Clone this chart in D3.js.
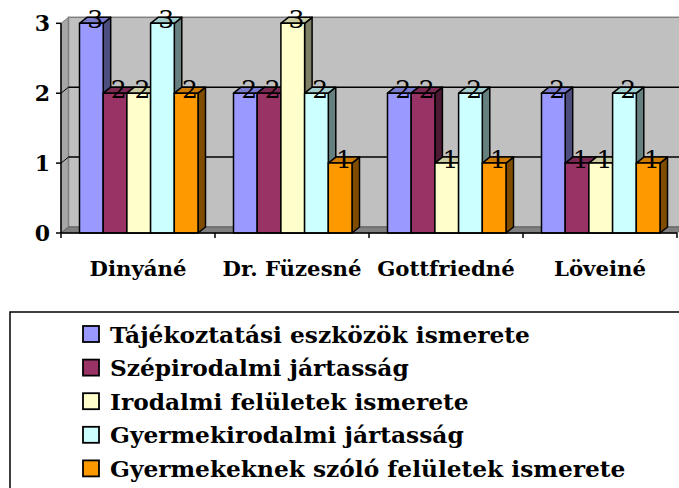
<!DOCTYPE html>
<html><head><meta charset="utf-8">
<script src="https://cdn.jsdelivr.net/npm/d3@7"></script>
<style>body{margin:0;background:#fff}svg{display:block}</style>
</head><body>
<svg id="c" width="679" height="488"></svg>
<script>
const categories = ["Dinyáné", "Dr. Füzesné", "Gottfriedné", "Löveiné"];
const seriesNames = [
  "Tájékoztatási eszközök ismerete",
  "Szépirodalmi jártasság",
  "Irodalmi felületek ismerete",
  "Gyermekirodalmi jártasság",
  "Gyermekeknek szóló felületek ismerete"
];
const tajekoztatasi = [3, 2, 2, 2];
const szepirodalmi = [2, 2, 2, 1];
const irodalmiFeluletek = [2, 3, 1, 1];
const gyermekirodalmi = [3, 2, 2, 2];
const gyermekeknekFeluletek = [2, 1, 1, 1];
const seriesValues = [tajekoztatasi, szepirodalmi, irodalmiFeluletek, gyermekirodalmi, gyermekeknekFeluletek];
const colors = ["#9999FF", "#993366", "#FFFFCC", "#CCFFFF", "#FF9900"];
const yTicks = [0, 1, 2, 3];

(function () {
const svg = d3.select("#c");
const pLeft = 61, pRight = 677, pBottom = 233, pTop = 23.3;
const dx = 7.5, dy = -6;
const serif = "'DejaVu Serif', serif";

const x = d3.scaleBand().domain(categories).range([pLeft, pRight]).padding(0);
const inner = d3.scaleBand().domain(d3.range(seriesNames.length)).range([18.5, 137]).padding(0);
const y = d3.scaleLinear().domain([0, 3]).range([pBottom, pTop]);

// walls
const wallTop = y(3) + dy, wallBottom = y(0) + dy;
svg.append("polygon")
  .attr("points", [[pLeft, y(3)], [pLeft + dx, wallTop], [pLeft + dx, wallBottom], [pLeft, y(0)]].join(" "))
  .attr("fill", "#A6A6A6").attr("stroke", "#808080").attr("stroke-width", 1);
svg.append("rect")
  .attr("x", pLeft + dx).attr("y", wallTop).attr("width", pRight - pLeft + 10).attr("height", wallBottom - wallTop)
  .attr("fill", "#C0C0C0").attr("stroke", "#808080").attr("stroke-width", 1.5);
svg.append("polygon")
  .attr("points", [[pLeft, y(0)], [pLeft + dx, wallBottom], [pRight + dx, wallBottom], [pRight, y(0)]].join(" "))
  .attr("fill", "#808080").attr("stroke", "#606060").attr("stroke-width", 1);

// gridlines
yTicks.filter(v => v > 0 && v < 3).forEach(v => {
  svg.append("line").attr("x1", pLeft + dx).attr("x2", pRight + dx + 10)
    .attr("y1", y(v) + dy).attr("y2", y(v) + dy).attr("stroke", "#000").attr("stroke-width", 1.5);
  svg.append("line").attr("x1", pLeft).attr("x2", pLeft + dx)
    .attr("y1", y(v)).attr("y2", y(v) + dy).attr("stroke", "#000").attr("stroke-width", 1);
});

function shade(c, k) {
  const r = d3.rgb(c);
  return d3.rgb(r.r * k, r.g * k, r.b * k).formatHex();
}

// bars
const labels = [];
categories.forEach((cat, ci) => {
  seriesValues.forEach((vals, si) => {
    const v = vals[ci];
    const x0 = x(cat) + inner(si), w = inner.bandwidth();
    const yt = y(v), yb = y(0);
    const g = svg.append("g").attr("stroke", "#000").attr("stroke-width", 1.5).attr("stroke-linejoin", "round");
    g.append("polygon").attr("points", [[x0 + w, yt], [x0 + w + dx, yt + dy], [x0 + w + dx, yb + dy], [x0 + w, yb]].join(" "))
      .attr("fill", shade(colors[si], 0.5));
    g.append("polygon").attr("points", [[x0, yt], [x0 + dx, yt + dy], [x0 + w + dx, yt + dy], [x0 + w, yt]].join(" "))
      .attr("fill", shade(colors[si], 0.8));
    g.append("rect").attr("x", x0).attr("y", yt).attr("width", w).attr("height", yb - yt)
      .attr("fill", colors[si]);
    labels.push({ x: x0 + w / 2 + dx / 2, y: yt + 5, t: v });
  });
});

// axes
svg.append("line").attr("x1", pLeft).attr("x2", pLeft).attr("y1", y(3)).attr("y2", y(0)).attr("stroke", "#000").attr("stroke-width", 1.5);
svg.append("line").attr("x1", pLeft).attr("x2", pRight).attr("y1", y(0)).attr("y2", y(0)).attr("stroke", "#000").attr("stroke-width", 1.5);
yTicks.forEach(v => {
  svg.append("line").attr("x1", pLeft - 5).attr("x2", pLeft).attr("y1", y(v)).attr("y2", y(v)).attr("stroke", "#000").attr("stroke-width", 1.5);
  svg.append("text").attr("x", 50).attr("y", y(v) + 8).attr("text-anchor", "end")
    .attr("font-family", serif).attr("font-weight", "bold").attr("font-size", 22).text(v);
});
[...categories.map(c => x(c)), pRight].forEach(px => {
  svg.append("line").attr("x1", px).attr("x2", px).attr("y1", y(0)).attr("y2", y(0) + 5).attr("stroke", "#000").attr("stroke-width", 1.5);
});

// stretched text helper (horizontal scale about anchor point)
function stretchedText(tx, ty, str, size, anchor) {
  const g = svg.append("g").attr("transform", `translate(${tx},${ty})`);
  const t = g.append("text").attr("x", 0).attr("y", 0).attr("text-anchor", anchor)
    .attr("font-family", serif).attr("font-weight", "bold").attr("font-size", size).text(str);
  return { g, t, w: t.node().getComputedTextLength() };
}
function applyStretch(items, targetTotal) {
  const total = d3.sum(items, d => d.w);
  const sx = targetTotal / total;
  items.forEach(d => d.g.attr("transform", d.g.attr("transform") + ` scale(${sx},1)`));
}

// category labels: reference widths sum ≈ 466px
const catItems = categories.map(c => stretchedText(x(c) + x.bandwidth() / 2, 276, c, 21, "middle"));
applyStretch(catItems, 466);

// data labels
labels.forEach(l => {
  svg.append("text").attr("x", l.x).attr("y", l.y).attr("text-anchor", "middle")
    .attr("font-family", serif).attr("font-size", 25).attr("fill", "#000").text(l.t);
});

// legend
svg.append("rect").attr("x", 10).attr("y", 312).attr("width", 700).attr("height", 200)
  .attr("fill", "#fff").attr("stroke", "#000").attr("stroke-width", 1.5);
const legItems = seriesNames.map((name, i) => {
  const ty = 326 + i * 33.6;
  svg.append("rect").attr("x", 83).attr("y", ty).attr("width", 16).attr("height", 16)
    .attr("fill", colors[i]).attr("stroke", "#000").attr("stroke-width", 1.8);
  return stretchedText(110, ty + 16.5, name, 22, "start");
});
// first + last legend rows ≈ 418 + 518 px in the reference
applyStretch([legItems[0], legItems[4]], 936);
legItems.slice(1, 4).forEach(d => {
  const sx = 936 / (legItems[0].w + legItems[4].w);
  d.g.attr("transform", d.g.attr("transform") + ` scale(${sx},1)`);
});
})();
</script>
</body></html>
